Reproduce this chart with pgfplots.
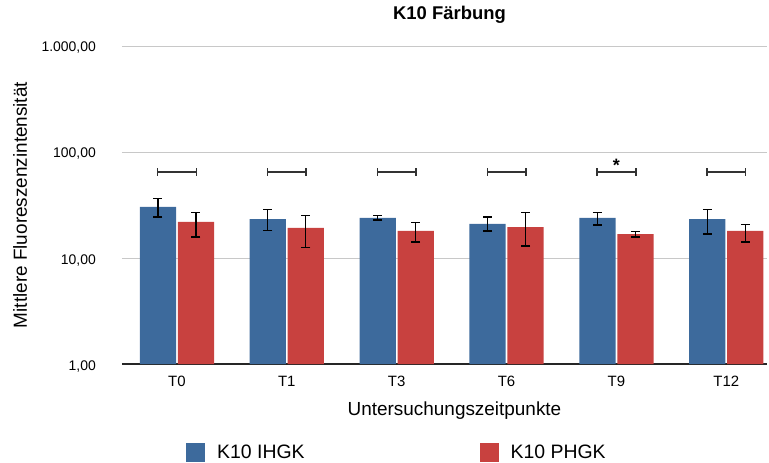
\documentclass[border=0pt]{standalone}
\usepackage{fontspec}
\setmainfont{Liberation Sans}
\usepackage{pgfplots}
\pgfplotsset{compat=1.18}
\usepackage{pgfplotstable}
\definecolor{cblue}{HTML}{3D6A9C}
\definecolor{cred}{HTML}{C8413F}
\definecolor{cgrid}{HTML}{C8C8C8}

\pgfplotstableread{
x y ep em
0 30.3 5.9 5.9
1 23.3 5.2 5.2
2 23.9 1.2 1.1
3 21.0 3.3 3.0
4 23.9 3.1 3.4
5 23.3 5.2 6.5
}\bluet
\pgfplotstableread{
x y ep em
0 21.9 4.9 6.1
1 19.2 5.9 6.7
2 18.0 3.5 3.8
3 19.6 7.2 6.6
4 16.8 1.1 1.0
5 18.0 2.6 3.8
}\redt
% significance brackets: horizontal bar and end ticks, segments separated by nan
\pgfplotstableread{
x y
-0.176 59.6
-0.176 70.9
nan nan
-0.176 65
0.176 65
nan nan
0.176 59.6
0.176 70.9
nan nan
0.824 59.6
0.824 70.9
nan nan
0.824 65
1.176 65
nan nan
1.176 59.6
1.176 70.9
nan nan
1.824 59.6
1.824 70.9
nan nan
1.824 65
2.176 65
nan nan
2.176 59.6
2.176 70.9
nan nan
2.824 59.6
2.824 70.9
nan nan
2.824 65
3.176 65
nan nan
3.176 59.6
3.176 70.9
nan nan
3.824 59.6
3.824 70.9
nan nan
3.824 65
4.176 65
nan nan
4.176 59.6
4.176 70.9
nan nan
4.824 59.6
4.824 70.9
nan nan
4.824 65
5.176 65
nan nan
5.176 59.6
5.176 70.9
}\brackets

\begin{document}
\begin{tikzpicture}
\begin{axis}[
  at={(0,0)}, anchor=south west,
  width=645bp, height=318bp, scale only axis,
  xmin=-0.5, xmax=5.37, ymin=1, ymax=1000, ymode=log,
  ytick={1,10,100,1000},
  yticklabels={{1,00},{10,00},{100,00},{1.000,00}},
  xtick={0,1,2,3,4,5},
  xticklabels={T0,T1,T3,T6,T9,T12},
  major tick length=0, minor tick length=0,
  ymajorgrids, yminorgrids=false,
  grid style={color=cgrid, line width=0.9bp},
  axis x line*=bottom,
  axis y line*=left,
  y axis line style={draw=none},
  x axis line style={-, draw=black!85, line width=1.3bp},
  yticklabel style={font=\fontsize{14}{16}\selectfont, anchor=base east, inner sep=0pt, xshift=-26bp, yshift=-6bp},
  xticklabel style={font=\fontsize{15}{17}\selectfont, anchor=base, inner sep=0pt, yshift=-22bp},
  title={K10 Färbung},
  title style={font=\fontsize{18.5}{20}\selectfont\bfseries, at={(axis description cs:0.5,1)}, anchor=base, yshift=21bp, xshift=5bp},
  xlabel={Untersuchungszeitpunkte},
  xlabel style={font=\fontsize{19}{21}\selectfont, at={(axis description cs:0.5,0)}, anchor=base, yshift=-51bp, xshift=10bp},
  ylabel={Mittlere Fluoreszenzintensität},
  every axis y label/.style={font=\fontsize{19}{21}\selectfont, at={(axis description cs:-0.158,0.5)}, rotate=90, anchor=center},
  unbounded coords=jump,
  legend columns=2,
  legend image code/.code={\path[fill=#1] (0bp,-9.5bp) rectangle (19bp,9.5bp);},
  legend style={at={(axis description cs:0.0992,-0.278)}, anchor=west, draw=none, fill=none, inner sep=0pt,
    font=\fontsize{19.5}{21}\selectfont,
    nodes={inner xsep=0pt, inner ysep=0pt},
    /tikz/every odd column/.append style={column sep=12bp},
    /tikz/every even column/.append style={column sep=175bp}},
]
\addplot[ybar, bar width=0.33, bar shift=0, fill=cblue, draw=none,
  error bars/.cd, y dir=both, y explicit,
  error bar style={draw=black, line width=1.3bp},
  error mark options={draw=black, line width=1.3bp, mark size=4.5bp, rotate=90}]
  table[x expr=\thisrow{x}-0.173, y=y, y error plus=ep, y error minus=em]{\bluet};
\addlegendentry{K10 IHGK}
\addplot[ybar, bar width=0.33, bar shift=0, fill=cred, draw=none,
  error bars/.cd, y dir=both, y explicit,
  error bar style={draw=black, line width=1.3bp},
  error mark options={draw=black, line width=1.3bp, mark size=4.5bp, rotate=90}]
  table[x expr=\thisrow{x}+0.173, y=y, y error plus=ep, y error minus=em]{\redt};
\addlegendentry{K10 PHGK}
\addplot[draw=black!80, line width=1.4bp, mark=none, forget plot]
  table[x=x, y=y]{\brackets};
\addplot[only marks, mark=none, forget plot,
  nodes near coords={\bfseries *},
  every node near coord/.style={anchor=base, inner sep=0pt, font=\fontsize{18}{20}\selectfont}]
  coordinates {(4,65)};
\end{axis}
\pgfresetboundingbox
\path[use as bounding box] (-122bp,-99bp) rectangle (647bp,364bp);
\end{tikzpicture}
\end{document}
